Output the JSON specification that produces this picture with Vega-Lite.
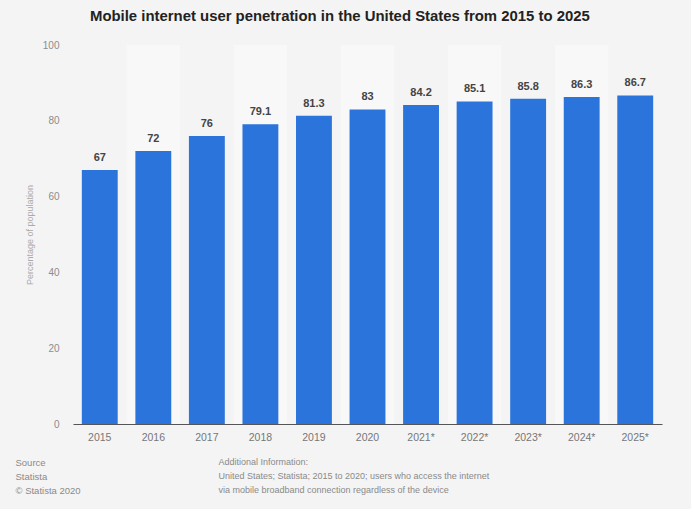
{
  "$schema": "https://vega.github.io/schema/vega-lite/v6.json",
  "width": 589,
  "height": 379,
  "autosize": {"type": "none"},
  "padding": {"left": 73, "top": 45, "right": 29, "bottom": 85},
  "background": "#f4f4f4",
  "config": {"view": {"stroke": null}, "font": "Liberation Sans"},
  "title": {
    "text": "Mobile internet user penetration in the United States from 2015 to 2025",
    "fontSize": 14.9,
    "fontWeight": "bold",
    "color": "#222222",
    "anchor": "start",
    "frame": "group",
    "dx": 17,
    "offset": 16
  },
  "data": {
    "values": [
      {"year": "2015", "value": 67},
      {"year": "2016", "value": 72},
      {"year": "2017", "value": 76},
      {"year": "2018", "value": 79.1},
      {"year": "2019", "value": 81.3},
      {"year": "2020", "value": 83},
      {"year": "2021*", "value": 84.2},
      {"year": "2022*", "value": 85.1},
      {"year": "2023*", "value": 85.8},
      {"year": "2024*", "value": 86.3},
      {"year": "2025*", "value": 86.7}
    ]
  },
  "layer": [
    {
      "transform": [{"filter": "parseInt(substring(datum.year, 0, 4)) % 2 == 0"}],
      "mark": {"type": "bar", "color": "#ffffff", "opacity": 0.4},
      "encoding": {
        "x": {
          "field": "year",
          "type": "nominal",
          "sort": null,
          "scale": {
            "domain": ["2015", "2016", "2017", "2018", "2019", "2020", "2021*", "2022*", "2023*", "2024*", "2025*"],
            "paddingInner": 0,
            "paddingOuter": 0
          },
          "axis": {
            "orient": "top",
            "labels": false,
            "ticks": false,
            "domain": false,
            "grid": false,
            "title": ["Additional Information:", "United States; Statista; 2015 to 2020; users who access the internet", "via mobile broadband connection regardless of the device"],
            "titleX": 145,
            "titleY": 412,
            "titleAlign": "left",
            "titleAnchor": "start",
            "titleBaseline": "top",
            "titleFontSize": 9,
            "titleFontWeight": "normal",
            "titleColor": "#8a8a8a",
            "titleLineHeight": 14,
            "titleAngle": 0
          }
        },
        "y": {
          "datum": 100,
          "type": "quantitative",
          "scale": {"domain": [0, 100]},
          "axis": {
            "values": [0, 20, 40, 60, 80, 100],
            "domain": false,
            "ticks": false,
            "gridColor": "#e0e0e0",
            "labelColor": "#8c8c8c",
            "labelFontSize": 10,
            "labelPadding": 14,
            "title": "Percentage of population",
            "titleColor": "#aaaaaa",
            "titleFontSize": 9,
            "titleFontWeight": "normal",
            "titlePadding": 8
          }
        }
      }
    },
    {
      "layer": [
        {
          "mark": {"type": "bar", "color": "#2a74db"},
          "encoding": {
            "x": {
              "field": "year",
              "type": "nominal",
              "sort": null,
              "scale": {"paddingInner": 0.33, "paddingOuter": 0.165},
              "axis": {
                "labelAngle": 0,
                "labelColor": "#777777",
                "labelFontSize": 10.5,
                "labelPadding": 8,
                "ticks": false,
                "domainColor": "#555555",
                "domainWidth": 1,
                "grid": false,
                "title": ["Source", "Statista", "© Statista 2020"],
                "titleX": -58,
                "titleY": 33,
                "titleAlign": "left",
                "titleAnchor": "start",
                "titleBaseline": "top",
                "titleFontSize": 9.5,
                "titleFontWeight": "normal",
                "titleColor": "#8a8a8a",
                "titleLineHeight": 14
              }
            },
            "y": {
              "field": "value",
              "type": "quantitative",
              "scale": {"domain": [0, 100]},
              "axis": {
                "values": [0, 20, 40, 60, 80, 100],
                "domain": false,
                "ticks": false,
                "gridColor": "#e0e0e0",
                "labelColor": "#8c8c8c",
                "labelFontSize": 10,
                "labelPadding": 14,
                "title": "Percentage of population",
                "titleColor": "#aaaaaa",
                "titleFontSize": 9,
                "titleFontWeight": "normal",
                "titlePadding": 8
              }
            }
          }
        },
        {
          "mark": {"type": "text", "baseline": "bottom", "dy": -7, "fontWeight": "bold", "fontSize": 11, "color": "#444444"},
          "encoding": {
            "x": {"field": "year", "type": "nominal", "sort": null},
            "y": {"field": "value", "type": "quantitative"},
            "text": {"field": "value", "type": "quantitative"}
          }
        }
      ]
    }
  ],
  "resolve": {"scale": {"x": "independent"}, "axis": {"x": "independent"}}
}
